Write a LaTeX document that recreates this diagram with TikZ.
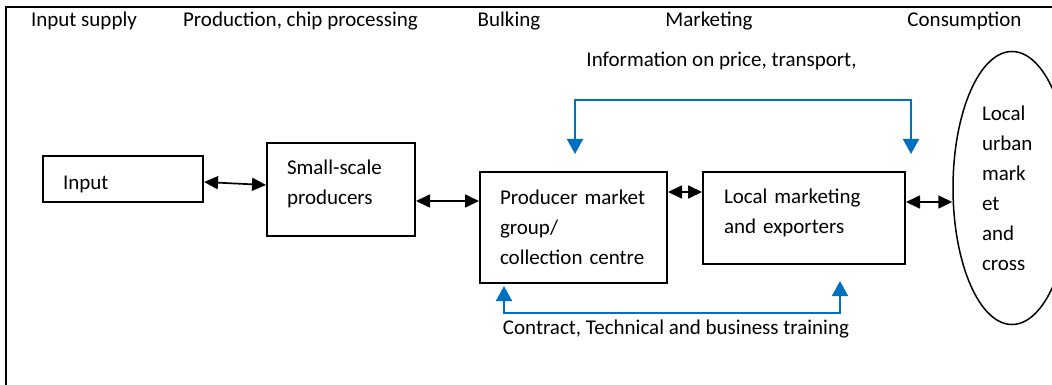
\documentclass[tikz,border=0pt]{standalone}
\usepackage{fontspec}
\setmainfont{Carlito}
\usepackage{tikz}
\usetikzlibrary{arrows.meta,shapes.geometric}
\definecolor{infoblue}{RGB}{0,112,192}

\begin{document}
\begin{tikzpicture}[
      x=1pt,y=-1pt,
      every node/.style={font=\fontsize{21pt}{30pt}\selectfont},
      header/.style={anchor=base,inner sep=0pt},
      stagebox/.style={
         rectangle,
         draw=black,
         line width=2pt,
         align=left,
         inner ysep=0pt},
      marketellipse/.style={
         ellipse,
         draw=black,
         line width=1.5pt,
         inner sep=0pt,
         align=left,
         text width=60pt,
         minimum width=118pt,
         minimum height=273pt},
      myarrow/.style={{Triangle[length=14pt,width=13pt]}-{Triangle[length=14pt,width=13pt]},line width=1.7pt},
      infoarrow/.style={{Triangle[length=15pt,width=16pt]}-{Triangle[length=15pt,width=16pt]},line width=1.6pt,draw=infoblue}
      ]
      \clip (0,0) rectangle (1052,385);
      \draw[line width=2pt] (6,7) rectangle (1070,400);

    \foreach \x/\txt [count=\i] in {% x position/heading
      84/Input supply,
      300.5/{Production, chip processing},
      509/Bulking,
      709/Marketing,
      964.5/Consumption}
       \node[header] (head\i) at (\x,27) {\txt};

      % struts push the text up or down inside its box
      \node[stagebox,inner xsep=20pt,text width=120pt,minimum width=160pt,minimum height=46pt] (input) at (123,179) {\rule{0pt}{23.5pt}Input};
      \node[stagebox,inner xsep=20pt,text width=108pt,minimum width=148pt,minimum height=93pt] (small) at (341,189.5) {Small-scale\\producers\rule[-15pt]{0pt}{0pt}};
      \node[stagebox,inner xsep=20pt,text width=147pt,minimum width=187pt,minimum height=111pt] (prod) at (573.5,227.5) {Producer market\\group/\\collection centre};
      \node[stagebox,inner xsep=21pt,text width=160pt,minimum width=202pt,minimum height=92pt] (local) at (804,218) {Local marketing\\and exporters\rule[-13pt]{0pt}{0pt}};
      \node[marketellipse] (market) at (1012,188) {Local\\urban\\mark\\et\\and\\cross};

    % goods flow between the stages
     \draw [myarrow] ([yshift=-3pt]input.east) -- ([yshift=4.5pt]small.west);
     \coordinate (sp) at ([yshift=-11.5pt]small.east);
     \draw [myarrow] (sp) -- (sp -| prod.west);
     \coordinate (pl) at ([yshift=35.5pt]prod.east);
     \draw [myarrow] (pl) -- (pl -| local.west);
     \coordinate (lm) at ([yshift=16pt]local.east);
     \draw [myarrow] (lm) -- (lm -| market.west);

    % information and training loops
     \coordinate (infotop) at (0,100);
     \coordinate (infoa) at ([xshift=1.5pt,yshift=17pt]prod.north);
     \coordinate (infob) at ([xshift=5pt,yshift=17pt]local.north east);
     \draw [infoarrow] (infoa) -- (infoa |- infotop) -| (infob);
     \node[header] (info) at (721.5,67) {Information on price, transport,};

     \coordinate (trainbase) at (0,313);
     \coordinate (traina) at ([xshift=25pt,yshift=-2pt]prod.south west);
     \coordinate (trainb) at ([xshift=36pt,yshift=-16pt]local.south);
     \draw [infoarrow] (traina) -- (traina |- trainbase) -| (trainb);
     \node[header] (train) at (676,334) {Contract, Technical and business training};
    \end{tikzpicture}
\end{document}
